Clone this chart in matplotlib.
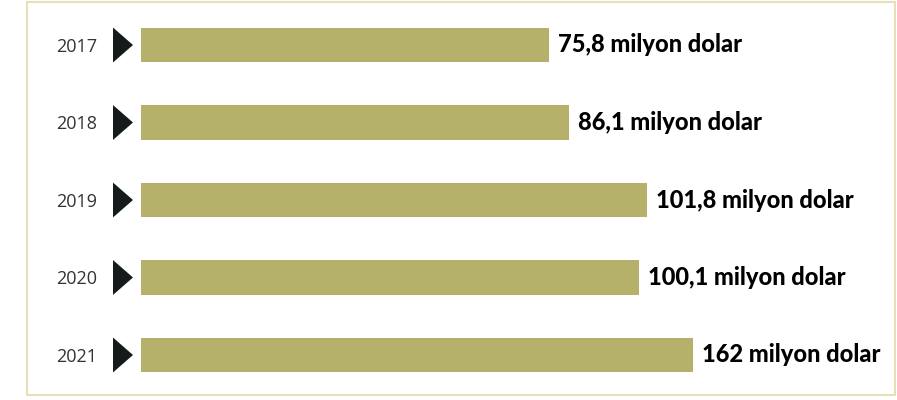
import matplotlib
matplotlib.use("Agg")
import matplotlib.pyplot as plt
from matplotlib.patches import Polygon, Rectangle
from matplotlib.transforms import blended_transform_factory

years = ["2017", "2018", "2019", "2020", "2021"]
values = [75.8, 86.1, 101.8, 100.1, 162]
value_labels = ["75,8 milyon dolar", "86,1 milyon dolar", "101,8 milyon dolar",
                "100,1 milyon dolar", "162 milyon dolar"]
# bar lengths as drawn in the graphic (not strictly to scale)
drawn_lengths = [82.0, 86.1, 101.8, 100.1, 111.0]

W, H = 897, 400
fig = plt.figure(figsize=(W / 100, H / 100), dpi=100)
fig.patch.set_facecolor("white")

ax_left = 141 / W
ax_w = (W - 141) / W
top_px, bot_px = 6.25, 393.75
ax = fig.add_axes([ax_left, 1 - bot_px / H, ax_w, (bot_px - top_px) / H])
ax.set_xlim(0, 756 / 4.975)
ax.set_ylim(len(years) - 0.5, -0.5)
ax.axis("off")

bar_color = "#b5b06a"
ypos = list(range(len(years)))
ax.barh(ypos, drawn_lengths, height=0.45, color=bar_color, left=0)

for y, L, lab in zip(ypos, drawn_lengths, value_labels):
    ax.annotate(lab, xy=(L, y), xytext=(6.5, 0), textcoords="offset points",
                ha="left", va="center", fontsize=17, fontweight=900,
                family="Lato", color="#000000", annotation_clip=False)

tr = blended_transform_factory(fig.transFigure, ax.transData)
for y, yr in zip(ypos, years):
    ax.text(97 / W, y + 0.02, yr, transform=tr, ha="right", va="center",
            fontsize=13, family="Open Sans", color="#333333", clip_on=False)
    tri = Polygon([[113 / W, y - 0.225], [113 / W, y + 0.225], [133 / W, y]],
                  closed=True, transform=tr, facecolor="#151a1a",
                  edgecolor="none", clip_on=False)
    ax.add_patch(tri)

fig.patches.append(Rectangle((26.5 / W, 1 - 395 / H), (895 - 26.5) / W, (395 - 1.5) / H,
                             transform=fig.transFigure, fill=False,
                             edgecolor="#e6dfb8", linewidth=1.5))

fig.savefig("out.png", dpi=100, facecolor="white")
